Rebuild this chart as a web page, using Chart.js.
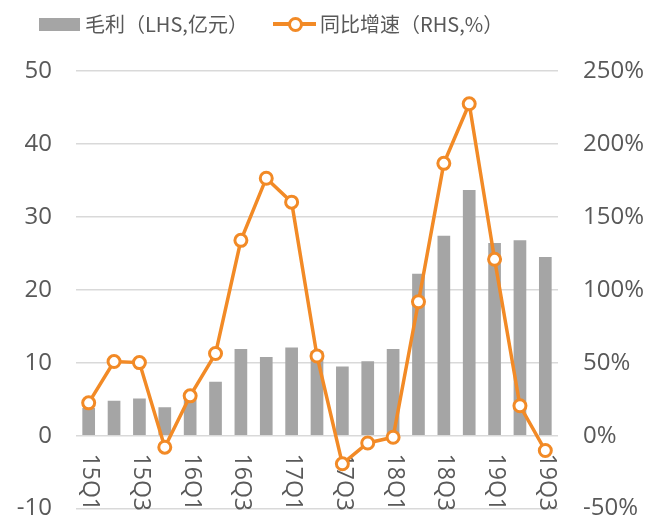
<!DOCTYPE html>
<html>
<head>
<meta charset="utf-8">
<script src="https://cdn.jsdelivr.net/npm/chart.js@4/dist/chart.umd.min.js"></script>
<style>
  html, body { margin: 0; padding: 0; background: #fff; }
  #wrap { position: relative; width: 649px; height: 523px; }
  #c { display: block; }
  #legend { position: absolute; left: 0; top: 0; width: 649px; height: 50px;
    font-family: "Noto Sans CJK SC", "Open Sans", sans-serif; font-size: 20px; color: #595959; }
  .lg { position: absolute; top: 9px; line-height: 30px; white-space: nowrap; }
  .sw-bar { position: absolute; left: 39px; top: 18px; width: 41px; height: 13px; background: #a5a5a5; }
  .sw-line { position: absolute; left: 273px; top: 22px; width: 43px; height: 4px; background: #f28a26; }
  .sw-dot { position: absolute; left: 288px; top: 17px; width: 9px; height: 9px; border: 3px solid #f28a26;
    border-radius: 50%; background: #fff; }
</style>
</head>
<body>
<div id="wrap">
  <canvas id="c" width="649" height="523"></canvas>
  <div id="legend">
    <span class="sw-bar"></span><span class="lg" style="left:85px">毛利（LHS,亿元）</span>
    <span class="sw-line"></span><span class="sw-dot"></span><span class="lg" style="left:320px">同比增速（RHS,%）</span>
  </div>
</div>
<script>
// 季度
var quarters = ['15Q1', '15Q2', '15Q3', '15Q4', '16Q1', '16Q2', '16Q3', '16Q4', '17Q1', '17Q2',
  '17Q3', '17Q4', '18Q1', '18Q2', '18Q3', '18Q4', '19Q1', '19Q2', '19Q3'];
// 毛利（亿元）
var grossProfit = [3.8, 4.8, 5.1, 3.9, 4.9, 7.4, 11.9, 10.8, 12.1, 11.6,
  9.5, 10.2, 11.9, 22.2, 27.4, 33.7, 26.4, 26.8, 24.5];
// 同比增速（%）
var yoyGrowth = [22.5, 50.8, 50.1, -7.9, 27.3, 56.3, 133.9, 176.5, 160.1, 54.6,
  -19.3, -5.0, -1.1, 91.8, 186.7, 227.5, 120.9, 20.5, -10.2];

var TXT = '#595959';
var FONT = '"Open Sans", "Noto Sans CJK SC", sans-serif';
var NONE = 'rgba(0,0,0,0)';

// x 轴标签画在 0 线下方，竖排（顺时针 90°）
var quarterLabels = {
  id: 'quarterLabels',
  beforeDatasetsDraw: function (chart) {
    var ctx = chart.ctx;
    var xs = chart.scales.x;
    var y0 = chart.scales.y.getPixelForValue(0) + 18;
    ctx.save();
    ctx.fillStyle = TXT;
    ctx.font = '23px ' + FONT;
    ctx.textAlign = 'left';
    ctx.textBaseline = 'middle';
    quarters.forEach(function (q, i) {
      if (i % 2) return;
      ctx.save();
      ctx.translate(xs.getPixelForValue(i) + 1, y0);
      ctx.rotate(Math.PI / 2);
      ctx.fillText(q, 0, 0);
      ctx.restore();
    });
    ctx.restore();
  }
};

new Chart(document.getElementById('c'), {
  data: {
    labels: quarters,
    datasets: [
      {
        type: 'line',
        label: '同比增速（RHS,%）',
        data: yoyGrowth,
        yAxisID: 'y2',
        borderColor: '#f28a26',
        borderWidth: 3.5,
        tension: 0,
        pointRadius: 6,
        pointBorderWidth: 3,
        pointBackgroundColor: '#fff',
        pointBorderColor: '#f28a26',
        order: 1
      },
      {
        type: 'bar',
        label: '毛利（LHS,亿元）',
        data: grossProfit,
        yAxisID: 'y',
        backgroundColor: '#a5a5a5',
        categoryPercentage: 1,
        barPercentage: 0.5,
        order: 2
      }
    ]
  },
  options: {
    responsive: false,
    animation: false,
    layout: { padding: { top: 71, bottom: 13, left: 0, right: 0 } },
    plugins: { legend: { display: false }, tooltip: { enabled: false } },
    scales: {
      x: { type: 'category', display: false, offset: true, ticks: { display: false } },
      y: {
        position: 'left',
        min: -10, max: 50,
        afterFit: function (s) { s.width = 76; },
        border: { display: false },
        grid: { color: '#d9d9d9', lineWidth: 1.5, drawTicks: true, tickLength: 24, tickColor: NONE },
        ticks: { stepSize: 10, padding: 0, color: TXT, font: { family: FONT, size: 24 } }
      },
      y2: {
        position: 'right',
        min: -50, max: 250,
        afterFit: function (s) { s.width = 91; },
        border: { display: false },
        grid: { color: NONE, drawOnChartArea: false, drawTicks: true, tickLength: 25, tickColor: NONE },
        ticks: {
          stepSize: 50, padding: 0, color: TXT, font: { family: FONT, size: 24 },
          callback: function (v) { return v + '%'; }
        }
      }
    }
  },
  plugins: [quarterLabels]
});
</script>
</body>
</html>
